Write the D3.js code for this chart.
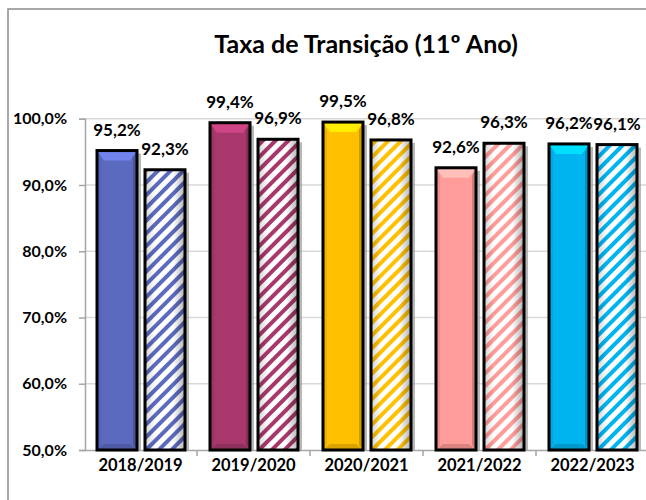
<!DOCTYPE html>
<html>
<head>
<meta charset="utf-8">
<script src="https://cdn.jsdelivr.net/npm/d3@7"></script>
<style>
  body { margin: 0; background: #fff; }
  svg { display: block; font-family: Lato, "Open Sans", sans-serif; }
</style>
</head>
<body>
<div id="chart"></div>
<script>
/* Chart data */
var anos = ['2018/2019', '2019/2020', '2020/2021', '2021/2022', '2022/2023'];
var serieA = [0.952, 0.994, 0.995, 0.926, 0.962];   // barras cheias
var serieB = [0.923, 0.969, 0.968, 0.963, 0.961];   // barras tracejadas
var cores = ['#5b6abf', '#a8386c', '#ffc000', '#ff9b98', '#00b4f0'];
var yTicks = [0.5, 0.6, 0.7, 0.8, 0.9, 1.0];

var W = 646, H = 500;
var pt = d3.formatLocale({decimal: ',', thousands: '.', grouping: [3], currency: ['', '€']});
var fmt = pt.format('.1%');

var svg = d3.select('#chart').append('svg')
  .attr('width', W).attr('height', H);
var defs = svg.append('defs');

// outer frame (cropped at right / bottom)
svg.append('rect')
  .attr('x', 8).attr('y', 9).attr('width', 700).attr('height', 600)
  .attr('fill', 'none').attr('stroke', '#8c8c8c').attr('stroke-width', 1.5);

svg.append('text')
  .attr('x', 366).attr('y', 53)
  .attr('text-anchor', 'middle')
  .attr('font-size', 25).attr('font-weight', 'bold')
  .text('Taxa de Transição (11º Ano)');

var x0 = d3.scaleBand().domain(anos).range([84, 649]);
var x1 = d3.scaleBand().domain(['a', 'b']).range([13, 101]).paddingInner(0.1667);
var y = d3.scaleLinear().domain([0.5, 1.0]).range([450, 118.75]);

// gridlines
svg.append('g').selectAll('line').data(yTicks.slice(1)).enter().append('line')
  .attr('x1', 85).attr('x2', W)
  .attr('y1', function(d) { return y(d); }).attr('y2', function(d) { return y(d); })
  .attr('stroke', '#d9d9d9').attr('stroke-width', 1.3);

// y axis
var yAxis = svg.append('g').attr('transform', 'translate(85,0)')
  .call(d3.axisLeft(y).tickValues(yTicks).tickFormat(fmt).tickSize(6).tickPadding(12));
yAxis.select('.domain').attr('stroke', '#a6a6a6').attr('stroke-width', 1.5);
yAxis.selectAll('.tick line').attr('stroke', '#a6a6a6').attr('stroke-width', 1.5);
yAxis.selectAll('text').attr('font-size', 16).attr('font-weight', 'bold')
  .attr('fill', '#000').attr('font-family', 'Lato, sans-serif');

// x axis
var xAxis = svg.append('g').attr('transform', 'translate(0,450)')
  .call(d3.axisBottom(x0).tickSize(0).tickPadding(9).tickSizeOuter(0));
xAxis.select('.domain').attr('stroke', '#a6a6a6').attr('stroke-width', 1.5);
xAxis.selectAll('text').attr('font-size', 16.5).attr('font-weight', 'bold')
  .attr('fill', '#000').attr('font-family', 'Lato, sans-serif');
svg.append('g').selectAll('line').data(anos.slice(1)).enter().append('line')
  .attr('x1', function(d) { return x0(d); }).attr('x2', function(d) { return x0(d); })
  .attr('y1', 450).attr('y2', 456)
  .attr('stroke', '#a6a6a6').attr('stroke-width', 1.5);

// gradient for the hatched bars (cylinder like shading)
var gh = defs.append('linearGradient').attr('id', 'sombra').attr('x1', 0).attr('x2', 1).attr('y1', 0).attr('y2', 0);
gh.append('stop').attr('offset', '0%').attr('stop-color', '#000').attr('stop-opacity', 0.18);
gh.append('stop').attr('offset', '25%').attr('stop-color', '#000').attr('stop-opacity', 0.0);
gh.append('stop').attr('offset', '70%').attr('stop-color', '#000').attr('stop-opacity', 0.0);
gh.append('stop').attr('offset', '100%').attr('stop-color', '#000').attr('stop-opacity', 0.3);

cores.forEach(function(c, i) {
  var p = defs.append('pattern').attr('id', 'hatch' + i)
    .attr('patternUnits', 'userSpaceOnUse').attr('width', 9).attr('height', 9)
    .attr('patternTransform', 'rotate(45)');
  p.append('rect').attr('width', 9).attr('height', 9).attr('fill', '#fff');
  p.append('rect').attr('x', 0).attr('width', 4).attr('height', 9).attr('fill', c);
});

var grupos = svg.append('g').selectAll('g').data(anos).enter().append('g')
  .attr('transform', function(d) { return 'translate(' + x0(d) + ',0)'; });

var bw = x1.bandwidth();

grupos.each(function(ano, i) {
  var g = d3.select(this);
  var c = d3.color(cores[i]);

  // solid bar
  var xa = x1('a'), ya = y(serieA[i]), ha = 450 - ya;
  g.append('rect').attr('x', xa + 4).attr('y', ya + 3).attr('width', bw).attr('height', ha - 3)
    .attr('fill', '#9a9a9a').attr('opacity', 0.7);
  g.append('rect').attr('x', xa).attr('y', ya).attr('width', bw).attr('height', ha)
    .attr('fill', c.formatHex());
  var ins = 7;
  // top bevel
  g.append('polygon')
    .attr('points', [[xa, ya], [xa + bw, ya], [xa + bw - ins, ya + ins + 3], [xa + ins, ya + ins + 3]].join(' '))
    .attr('fill', c.brighter(0.6).formatHex());
  // right side
  g.append('polygon')
    .attr('points', [[xa + bw, ya], [xa + bw, 450], [xa + bw - 4, 450 - 5], [xa + bw - 4, ya + ins + 1]].join(' '))
    .attr('fill', c.darker(0.6).formatHex());
  // left side
  g.append('polygon')
    .attr('points', [[xa, ya], [xa, 450], [xa + 4, 450 - 5], [xa + 4, ya + ins + 1]].join(' '))
    .attr('fill', c.darker(0.2).formatHex());
  // bottom
  g.append('polygon')
    .attr('points', [[xa, 450], [xa + bw, 450], [xa + bw - ins, 450 - 6], [xa + ins, 450 - 6]].join(' '))
    .attr('fill', c.darker(0.45).formatHex());
  g.append('rect').attr('x', xa).attr('y', ya).attr('width', bw).attr('height', ha)
    .attr('fill', 'none').attr('stroke', '#000').attr('stroke-width', 3);

  // hatched bar
  var xb = x1('b'), yb = y(serieB[i]), hb = 450 - yb;
  g.append('rect').attr('x', xb + 4).attr('y', yb + 3).attr('width', bw).attr('height', hb - 3)
    .attr('fill', '#9a9a9a').attr('opacity', 0.7);
  g.append('rect').attr('x', xb).attr('y', yb).attr('width', bw).attr('height', hb)
    .attr('fill', 'url(#hatch' + i + ')');
  g.append('rect').attr('x', xb).attr('y', yb).attr('width', bw).attr('height', hb)
    .attr('fill', 'url(#sombra)');
  g.append('rect').attr('x', xb).attr('y', yb).attr('width', bw).attr('height', hb)
    .attr('fill', 'none').attr('stroke', '#000').attr('stroke-width', 3);

  // labels
  g.append('text').attr('x', xa + bw / 2).attr('y', ya - 15)
    .attr('text-anchor', 'middle').attr('font-size', 17).attr('font-weight', 'bold')
    .text(fmt(serieA[i]));
  g.append('text').attr('x', xb + bw / 2).attr('y', yb - 15)
    .attr('text-anchor', 'middle').attr('font-size', 17).attr('font-weight', 'bold')
    .text(fmt(serieB[i]));
});
</script>
</body>
</html>
